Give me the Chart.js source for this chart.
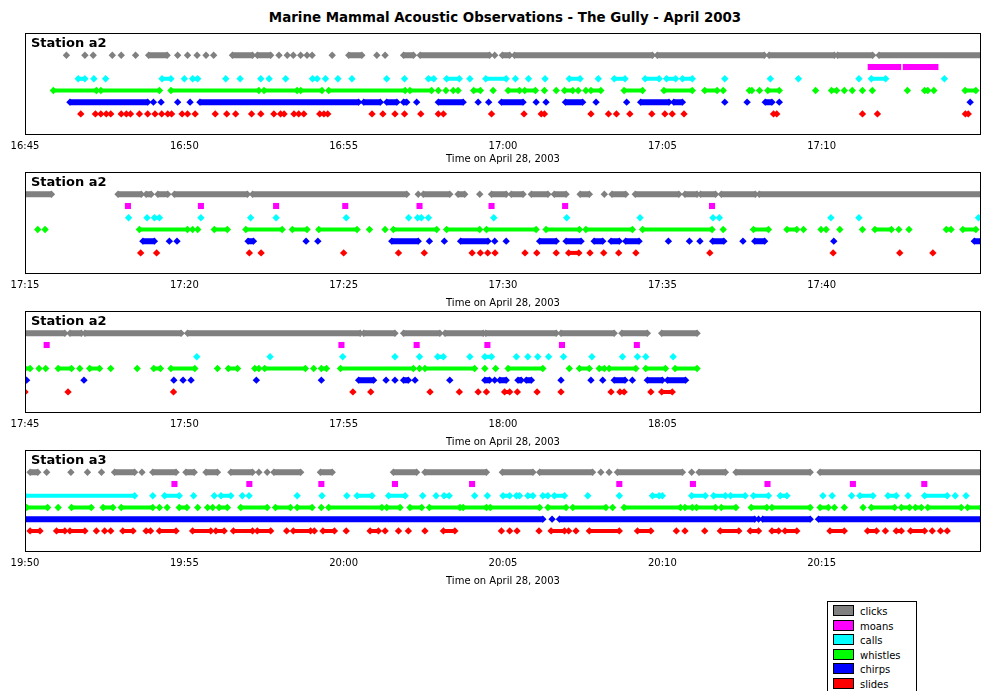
<!DOCTYPE html>
<html lang="en">
<head>
    <meta charset="UTF-8">
    <title>Marine Mammal Acoustic Observations</title>
    <script src="https://cdn.jsdelivr.net/npm/chart.js"></script>
    <style>
        body {
            margin: 0;
            padding: 0;
            background: #ffffff;
            font-family: "DejaVu Sans", sans-serif;
            color: #000000;
            width: 986px;
            height: 691px;
            overflow: hidden;
            position: relative;
        }

        .title {
            position: absolute;
            left: 25px;
            width: 960px;
            top: 9px;
            line-height: 18px;
            text-align: center;
            font-weight: bold;
            font-size: 13.4px;
        }

        .panel {
            position: absolute;
            left: 0;
            width: 986px;
            height: 138px;
        }

        .legend {
            position: absolute;
            left: 827px;
            top: 601px;
            width: 88px;
            height: 100px;
            border: 1px solid #000;
            background: #fff;
        }

        .legend .row {
            position: absolute;
            left: 5px;
            height: 14px;
            font-size: 10px;
            line-height: 14px;
            white-space: nowrap;
        }

        .legend .swatch {
            display: inline-block;
            width: 19px;
            height: 9px;
            border: 1px solid #000;
            vertical-align: -1px;
            margin-right: 6px;
        }
    </style>
</head>
<body>
    <div class="title" id="title"></div>
    <div class="panel" style="top:32px; height:133px"><canvas id="panel0"></canvas></div>
    <div class="panel" style="top:171px"><canvas id="panel1"></canvas></div>
    <div class="panel" style="top:310px"><canvas id="panel2"></canvas></div>
    <div class="panel" style="top:449px"><canvas id="panel3"></canvas></div>
    <div class="legend" id="legend"></div>

    <script>
        const chartTitle = "Marine Mammal Acoustic Observations - The Gully - April 2003";
        const axisTitle = "Time on April 28, 2003";

        const seriesNames = ["clicks", "moans", "calls", "whistles", "chirps", "slides"];
        const seriesColors = ["#808080", "#ff00ff", "#00ffff", "#00ff00", "#0000ff", "#ff0000"];
        const seriesLevels = [6, 5, 4, 3, 2, 1];

        const stationNames = ["Station a2", "Station a2", "Station a2", "Station a3"];
        const tickLabels = [
            ["16:45", "16:50", "16:55", "17:00", "17:05", "17:10"],
            ["17:15", "17:20", "17:25", "17:30", "17:35", "17:40"],
            ["17:45", "17:50", "17:55", "18:00", "18:05"],
            ["19:50", "19:55", "20:00", "20:05", "20:10", "20:15"],
        ];

        // minutes after the first tick of each panel; [a, b] = continuous run of detections
        const p1Clicks = [1.30, 1.88, 2.14, 2.74, 3.02, 3.47, [3.88, 4.46], 4.79, 5.10, 5.40, 5.68, 5.92, [6.51, 7.14], [7.29, 7.71], 7.97, 8.23, 8.42, 8.65, 8.85, 9.01, 9.64, [10.16, 10.57], 11.04, 11.30, [11.88, 12.19], [12.40, 14.58], 14.74, [14.98, 15.21], [15.36, 19.69], [19.84, 23.20], [23.35, 25.40], [25.50, 26.60], [26.80, 30]];
        const p1Moans = [[26.54, 27.40], [27.64, 28.57]];
        const p1Calls = [[1.67, 1.88], 2.16, 2.53, [4.30, 4.58], 5.00, [5.26, 5.42], 6.30, 6.75, 7.40, 7.66, 8.18, [9.02, 9.17], 9.43, 9.82, 10.26, 11.35, 11.91, [12.66, 12.83], [13.23, 13.63], 13.96, [14.46, 15.10], 15.39, 15.80, 16.32, [17.08, 17.42], 17.99, [18.49, 18.83], [19.46, 19.90], [20.13, 20.42], [20.63, 20.94], 21.96, 23.39, 24.27, 26.17, [26.56, 27.01], 28.85];
        const p1Whistles = [[0.89, 2.24], [2.38, 4.22], [4.58, 7.34], [7.50, 8.54], [8.65, 9.32], [9.53, 11.93], [12.08, 12.76], 12.97, 13.21, 13.44, 13.59, [14.08, 14.29], 14.69, [15.16, 15.52], [15.68, 16.02], 16.30, 16.67, [16.93, 17.19], 17.36, 17.60, [17.76, 18.07], [18.80, 19.38], [20.05, 20.94], [21.33, 21.72], 21.91, [22.73, 22.81], 23.05, [23.31, 23.67], 24.81, [25.31, 25.47], 25.71, 25.96, 26.28, 26.59, 27.69, [28.23, 28.33], 28.52, [29.50, 29.84]];
        const p1Chirps = [[1.41, 3.85], 4.03, 4.27, 4.79, 5.18, [5.49, 10.47], [10.63, 11.15], [11.35, 11.67], [11.88, 11.98], 12.29, [12.97, 13.75], 14.22, 14.55, [14.95, 15.63], 16.04, 16.35, [16.96, 17.50], 17.92, 18.88, [19.32, 20.21], [20.36, 20.63], 21.96, 22.66, [23.23, 23.44], 23.67, 29.66];
        const p1Slides = [1.75, 2.21, 2.38, 2.55, 2.69, 3.02, 3.18, 3.31, 3.59, 3.85, 4.08, 4.29, 4.48, 4.60, 4.93, 5.10, 5.34, 5.97, 6.33, 6.61, 7.11, 7.40, 7.81, 8.02, 8.13, 8.44, 8.59, 8.75, 9.25, 9.38, 9.50, 10.89, 11.23, 11.61, 11.91, 12.42, 12.97, 13.13, 14.64, 15.66, [16.20, 16.30], 17.76, 18.31, 18.56, 18.98, 19.67, 20.08, 20.31, 20.68, [23.49, 23.59], 26.28, 26.75, [29.51, 29.60]];

        const p2Clicks = [[0, 0.83], [2.92, 3.65], [3.80, 3.96], [4.17, 4.48], [4.69, 6.98], [7.14, 11.98], 12.34, [12.50, 13.33], [13.59, 13.80], 14.27, [14.64, 15.10], [15.26, 15.63], [15.89, 16.41], [16.61, 16.98], [17.42, 17.71], 18.18, [18.42, 18.85], [19.15, 20.52], [20.71, 21.09], [21.20, 21.67], [21.85, 22.92], [23.04, 30]];
        const p2Moans = [3.23, 5.52, 7.88, 10.05, 12.38, 14.64, 16.95, 21.56];
        const p2Calls = [3.25, 3.83, [4.06, 4.22], 5.52, 7.08, 7.88, 10.08, 12.04, [12.32, 12.44], 12.66, 14.71, 17.00, 19.30, 21.59, 21.79, 25.29, 26.17, 29.92];
        const p2Whistles = [0.40, 0.63, [3.59, 5.10], 5.26, 5.42, [5.94, 6.35], [6.93, 8.07], [8.39, 8.85], [9.22, 10.42], 10.81, 11.30, [11.56, 12.92], [13.23, 14.27], [14.48, 16.04], [16.35, 17.40], [17.60, 19.06], [19.38, 21.56], 21.91, [22.86, 23.33], [23.91, 24.22], 24.43, 24.98, 25.14, 25.57, 26.28, [26.67, 27.19], 27.42, 27.74, [28.91, 29.06], [29.43, 29.84]];
        const p2Chirps = [[3.70, 4.06], 4.53, 4.77, [7.00, 7.17], 8.82, 9.19, [11.51, 12.34], 12.69, 13.16, [13.67, 14.53], 14.74, 15.10, [16.15, 16.67], [16.98, 17.45], [17.86, 18.13], [18.39, 18.65], [18.85, 19.27], 20.19, 20.85, 21.18, [21.58, 21.93], 22.53, [22.90, 23.21], 25.38, [29.79, 30]];
        const p2Slides = [3.63, 4.13, 7.04, 7.41, 10.00, 11.72, 12.53, 14.03, 14.29, 14.52, 14.75, 15.69, 16.06, 16.67, [17.06, 17.38], 17.73, 18.16, 18.63, 19.17, 21.49, 25.36, 27.45, 28.49];

        const p3Clicks = [[0, 1.25], [1.41, 1.77], [1.88, 4.90], [5.10, 10.52], [10.63, 11.61], [11.88, 13.02], [13.18, 14.38], [14.46, 16.67], [16.82, 18.49], [18.73, 19.53], [19.98, 21.09]];
        const p3Moans = [0.68, 9.93, 12.29, 14.51, 16.85, 19.20];
        const p3Calls = [5.39, 7.69, 9.97, 11.61, 12.38, [12.95, 13.13], 13.96, [14.43, 14.64], 15.42, 15.78, 16.09, 16.43, 16.90, 17.79, 18.75, 19.22, 19.48, 20.34];
        const p3Whistles = [[0, 0.16], 0.44, 0.65, [1.04, 1.46], 1.72, [2.03, 2.34], 2.69, 3.52, [4.04, 4.25], [4.58, 5.33], 6.04, [6.38, 6.67], [7.21, 7.34], [7.52, 8.80], 9.06, [9.30, 9.46], [9.90, 12.19], 12.38, [12.55, 14.11], 14.43, 14.77, [15.16, 16.25], 17.08, [17.40, 17.71], [18.02, 18.18], [18.33, 19.17], [19.48, 20.10], [20.40, 21.09]];
        const p3Chirps = [0.05, 1.85, 4.67, 4.96, 5.21, 7.26, 9.30, [10.47, 10.94], 11.33, 11.61, [11.88, 12.03], 12.24, 13.33, [14.43, 14.58], 14.74, [14.90, 15.10], [15.47, 15.57], [15.73, 15.89], 16.82, 17.76, 18.13, [18.49, 18.83], 19.06, [19.53, 20.00], [20.16, 20.73]];
        const p3Slides = [0.00, 1.35, 4.66, 10.29, 10.85, 12.71, 13.63, 14.22, 14.48, [15.05, 15.21], 15.45, 16.07, 16.82, 18.39, [18.67, 18.80], 19.64, [19.98, 20.31]];

        const p4Clicks = [[0.16, 0.40], 0.68, 1.44, 1.96, 2.40, [2.81, 3.44], 3.67, [4.01, 4.74], [5.05, 5.31], [5.68, 6.04], [6.46, 7.14], 7.34, 7.60, [7.81, 8.65], [9.27, 9.64], [11.56, 12.29], [12.55, 14.48], [14.98, 15.94], [16.15, 17.81], 18.07, 18.33, [18.59, 20.63], 20.92, [21.15, 21.98], [22.31, 24.64], [24.95, 30]];
        const p4Moans = [4.69, 7.04, 9.30, 11.61, 14.03, 18.65, 20.96, 23.30, 25.98, 28.22];
        const p4Calls = [[0, 3.44], 4.01, [4.38, 4.84], 5.29, 5.94, [6.15, 6.46], 6.82, 7.03, 8.54, 9.32, 10.10, [10.42, 10.89], [11.41, 11.93], 12.48, 12.90, [13.15, 13.31], 14.11, 14.51, [15.00, 15.21], [15.42, 15.52], [15.78, 15.94], [16.25, 16.41], [16.61, 16.93], 17.66, 18.65, [19.69, 19.90], 20.00, [20.92, 21.35], [21.61, 21.98], [22.14, 22.60], [22.86, 23.33], [23.70, 23.91], 25.04, 25.33, 25.94, [26.20, 26.61], [27.08, 27.34], 27.71, [28.23, 28.94], 29.19, 29.53];
        const p4Whistles = [[0.05, 0.71], 1.04, [1.46, 2.08], [2.45, 2.76], [3.02, 4.01], 4.22, 4.46, [4.84, 5.08], 5.42, 5.73, 5.89, [6.09, 6.35], [6.77, 7.60], [7.86, 8.33], [8.54, 9.01], 9.30, [9.53, 11.20], [11.35, 11.77], [12.08, 12.45], [12.69, 13.65], [13.75, 14.48], [14.60, 16.15], [16.41, 16.98], [17.19, 18.23], 18.44, [18.80, 20.57], [20.71, 20.94], [21.07, 21.67], [21.85, 22.31], [22.79, 23.28], [23.44, 24.64], [24.95, 25.21], 25.40, 25.71, 26.30, [26.56, 27.29], [27.50, 27.76], [27.94, 28.13], [28.33, 29.38], [29.58, 30]];
        const p4Chirps = [[0, 16.25], 16.54, [16.77, 22.90], 23.02, [23.15, 24.64], [24.90, 30]];
        const p4Slides = [[0.16, 0.47], [0.99, 1.25], [1.41, 1.88], 2.24, 2.50, 2.69, [3.07, 3.39], [3.80, 3.94], [4.22, 4.74], [5.26, 5.83], [5.99, 6.25], [6.54, 7.14], [7.29, 7.71], 8.21, [8.42, 8.96], 9.08, [9.35, 9.71], 10.08, [10.83, 11.09], 11.30, 11.72, 12.03, 12.55, [13.13, 13.49], 14.95, 15.21, 15.44, 16.13, [16.51, 16.93], 17.06, 17.29, [17.71, 18.65], [19.22, 19.64], 20.44, 20.71, 21.33, [21.82, 22.40], [22.76, 23.02], [23.44, 23.65], [23.85, 24.22], [25.26, 25.71], [26.44, 26.72], 27.00, [27.34, 27.50], [27.79, 28.23], 28.47, 28.73, 28.94];

        const panels = [
            [p1Clicks, p1Moans, p1Calls, p1Whistles, p1Chirps, p1Slides],
            [p2Clicks, p2Moans, p2Calls, p2Whistles, p2Chirps, p2Slides],
            [p3Clicks, p3Moans, p3Calls, p3Whistles, p3Chirps, p3Slides],
            [p4Clicks, p4Moans, p4Calls, p4Whistles, p4Chirps, p4Slides],
        ];

        // thickness of a continuous run, per series
        const runWidths = [6, 6, 4, 4, 6, 4];
        // gap between tick labels and the axis title, per panel
        const titleGaps = [-4, 1, 1, 1];

        Chart.defaults.font.family = '"DejaVu Sans", sans-serif';
        Chart.defaults.font.size = 10;
        Chart.defaults.color = "#000000";

        // frame round the plot area and the station name in its corner
        const framePlugin = {
            id: "frame",
            afterDraw(chart, args, opts) {
                const a = chart.chartArea;
                const c = chart.ctx;
                c.save();
                c.strokeStyle = "#000000";
                c.lineWidth = 1;
                c.strokeRect(a.left + 0.5, a.top + 0.5, a.right - a.left - 1, a.bottom - a.top - 1);
                c.font = 'bold 13px "DejaVu Sans"';
                c.fillStyle = "#000000";
                c.textBaseline = "middle";
                c.fillText(opts.label, a.left + 6, a.top + 11);
                c.restore();
            },
        };

        function toPoints(entries, level) {
            const pts = [];
            entries.forEach((e) => {
                if (Array.isArray(e)) {
                    pts.push({ x: e[0], y: level }, { x: e[1], y: level }, { x: e[1], y: null });
                } else {
                    pts.push({ x: e, y: level }, { x: e, y: null });
                }
            });
            return pts;
        }

        panels.forEach((series, p) => {
            const labels = tickLabels[p];
            const datasets = series.map((entries, s) => ({
                label: seriesNames[s],
                data: toPoints(entries, seriesLevels[s]),
                borderColor: seriesColors[s],
                backgroundColor: seriesColors[s],
                pointBackgroundColor: seriesColors[s],
                borderWidth: runWidths[s],
                borderCapStyle: "butt",
                pointStyle: s === 1 ? "rect" : "rectRot",
                pointRadius: s === 1 ? 4.3 : 3.7,
                pointBorderWidth: 0,
                tension: 0,
                spanGaps: false,
            }));

            new Chart(document.getElementById("panel" + p), {
                type: "line",
                data: { datasets: datasets },
                plugins: [framePlugin],
                options: {
                    responsive: true,
                    maintainAspectRatio: false,
                    animation: false,
                    layout: { autoPadding: false, padding: { left: 25, right: 1, top: 1, bottom: 0 } },
                    plugins: {
                        legend: { display: false },
                        tooltip: { enabled: false },
                        frame: { label: stationNames[p] },
                    },
                    scales: {
                        x: {
                            type: "linear",
                            min: 0,
                            max: 30,
                            grid: { display: false, drawTicks: false },
                            border: { display: false },
                            ticks: {
                                stepSize: 5,
                                padding: 5,
                                autoSkip: false,
                                maxRotation: 0,
                                callback: (v) => labels[Math.round(v / 5)] || "",
                            },
                            title: {
                                display: true,
                                text: axisTitle,
                                padding: { top: titleGaps[p], bottom: 0 },
                            },
                        },
                        y: {
                            display: false,
                            min: -0.8,
                            max: 7.9,
                        },
                    },
                },
            });
        });

        document.getElementById("title").textContent = chartTitle;

        const legend = document.getElementById("legend");
        seriesNames.forEach((name, i) => {
            const row = document.createElement("div");
            row.className = "row";
            row.style.top = (3 + i * 14.6) + "px";
            const sw = document.createElement("span");
            sw.className = "swatch";
            sw.style.background = seriesColors[i];
            row.appendChild(sw);
            row.appendChild(document.createTextNode(name));
            legend.appendChild(row);
        });
    </script>
</body>
</html>
